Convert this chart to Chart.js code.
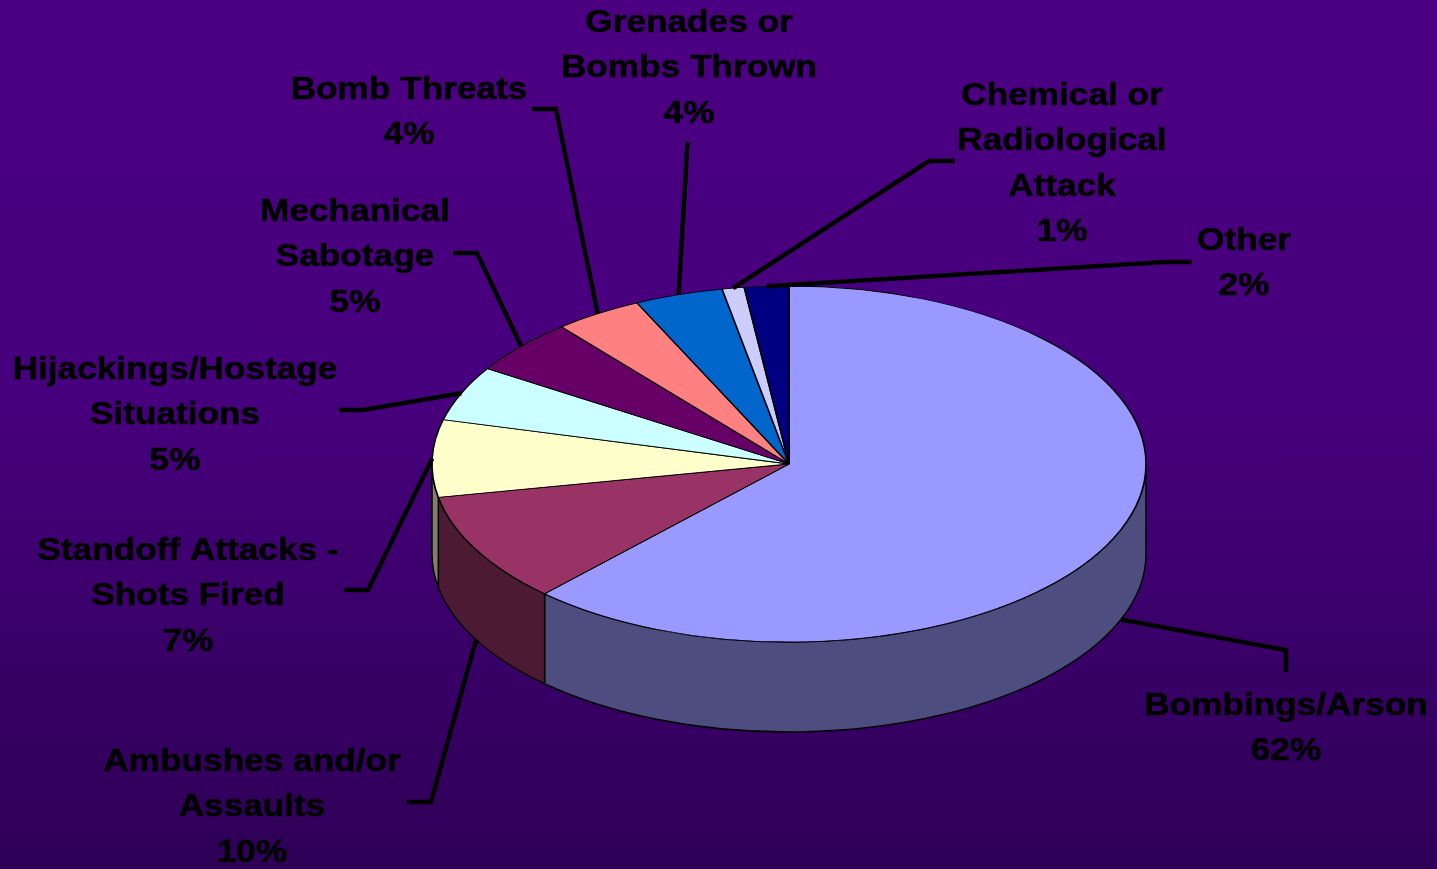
<!DOCTYPE html>
<html>
<head>
<meta charset="utf-8">
<script src="https://cdn.jsdelivr.net/npm/chart.js@4.4.0/dist/chart.umd.min.js"></script>
<style>
  html, body { margin: 0; padding: 0; }
  body {
    width: 1437px; height: 869px; overflow: hidden;
    background: linear-gradient(to bottom, #4b0082 0%, #47007d 45%, #2e0056 100%);
  }
  #wrap { position: relative; width: 1437px; height: 869px; }
</style>
</head>
<body>
<div id="wrap"><canvas id="grafico"></canvas></div>
<script>
// Dados do gráfico
const categorias = [
  ["Bombings/Arson"],
  ["Ambushes and/or", "Assaults"],
  ["Standoff Attacks -", "Shots Fired"],
  ["Hijackings/Hostage", "Situations"],
  ["Mechanical", "Sabotage"],
  ["Bomb Threats"],
  ["Grenades or", "Bombs Thrown"],
  ["Chemical or", "Radiological", "Attack"],
  ["Other"]
];
const valores = [62, 10, 7, 5, 5, 4, 4, 1, 2];
const cores = ["#9999ff", "#993366", "#ffffcc", "#ccffff", "#660066", "#ff8080", "#0066cc", "#ccccff", "#000080"];

// Posição dos rótulos (centro da 1a linha) e da linha guia
const rotulos = [
  { x: 1286, y: 704, cotovelo: [1286, 650], ponta: [1286, 672] },
  { x: 252, y: 760, cotovelo: [431, 802], ponta: [407, 802] },
  { x: 188, y: 549, cotovelo: [368, 590], ponta: [344, 590] },
  { x: 175, y: 368, cotovelo: [363, 410], ponta: [339, 410] },
  { x: 355, y: 210, cotovelo: [477, 253], ponta: [453, 253] },
  { x: 409, y: 88, cotovelo: [556, 109], ponta: [532, 109] },
  { x: 689, y: 21, cotovelo: [687, 150], ponta: [688, 142] },
  { x: 1062, y: 94, cotovelo: [929, 161], ponta: [955, 161] },
  { x: 1244, y: 239, cotovelo: [1166, 262], ponta: [1192, 262] }
];

// Geometria da pizza 3D
const CX = 789, CY = 464, RX = 357, RY = 178, PROF = 90;

// escurece uma cor hex pela metade (lateral da pizza)
function escurecer(hex) {
  const n = parseInt(hex.slice(1), 16);
  const r = Math.round(((n >> 16) & 255) * 0.5);
  const g = Math.round(((n >> 8) & 255) * 0.5);
  const b = Math.round((n & 255) * 0.5);
  return `rgb(${r}, ${g}, ${b})`;
}

const pizza3d = {
  id: "pizza3d",
  beforeDatasetsDraw(chart) {
    const ctx = chart.ctx;
    const arcos = chart.getDatasetMeta(0).data;

    // laterais visíveis (metade da frente)
    arcos.forEach((arco, i) => {
      const a0 = Math.max(arco.startAngle, 0);
      const a1 = Math.min(arco.endAngle, Math.PI);
      if (a1 <= a0) return;
      ctx.beginPath();
      ctx.ellipse(CX, CY, RX, RY, 0, a0, a1, false);
      ctx.ellipse(CX, CY + PROF, RX, RY, 0, a1, a0, true);
      ctx.closePath();
      ctx.fillStyle = escurecer(cores[i]);
      ctx.fill();
      ctx.lineWidth = 1.5;
      ctx.strokeStyle = "#000";
      ctx.stroke();
    });

    // achata o círculo em elipse para o topo
    const { x, y } = arcos[0];
    ctx.save();
    ctx.translate(CX, CY);
    ctx.scale(1, RY / RX);
    ctx.translate(-x, -y);
  },
  afterDatasetsDraw(chart) {
    const ctx = chart.ctx;
    ctx.restore();
    const arcos = chart.getDatasetMeta(0).data;

    arcos.forEach((arco, i) => {
      const r = rotulos[i];
      const meio = (arco.startAngle + arco.endAngle) / 2;
      let px = CX + RX * Math.cos(meio);
      let py = CY + RY * Math.sin(meio);
      if (Math.sin(meio) > 0.2) py += PROF; // fatias da frente: borda de baixo

      // linha guia
      ctx.beginPath();
      ctx.moveTo(px, py);
      ctx.lineTo(r.cotovelo[0], r.cotovelo[1]);
      ctx.lineTo(r.ponta[0], r.ponta[1]);
      ctx.lineWidth = 4.5;
      ctx.strokeStyle = "#000";
      ctx.lineJoin = "miter";
      ctx.stroke();

      // texto
      ctx.font = 'bold 32px "Liberation Sans", Arial, sans-serif';
      ctx.textAlign = "center";
      ctx.textBaseline = "middle";
      ctx.fillStyle = "#000";
      ctx.strokeStyle = "#000";
      ctx.lineWidth = 0.6;
      const linhas = [...categorias[i], valores[i] + "%"];
      linhas.forEach((t, k) => {
        ctx.save();
        ctx.translate(r.x, r.y + 2 + k * 45.5);
        ctx.scale(1.1, 1);
        ctx.fillText(t, 0, 0);
        ctx.strokeText(t, 0, 0);
        ctx.restore();
      });
    });
  }
};

const ctx = document.getElementById("grafico").getContext("2d");

const grafico = new Chart(ctx, {
  type: "pie",
  data: {
    labels: categorias,
    datasets: [{
      data: valores,
      backgroundColor: cores,
      borderColor: "#000",
      borderWidth: 1.6,
      clip: false
    }]
  },
  options: {
    responsive: true,
    maintainAspectRatio: false,
    animation: false,
    events: [],
    radius: RX,
    rotation: 0,
    layout: { padding: 0 },
    plugins: {
      legend: { display: false },
      tooltip: { enabled: false }
    }
  },
  plugins: [pizza3d]
});
</script>
</body>
</html>
